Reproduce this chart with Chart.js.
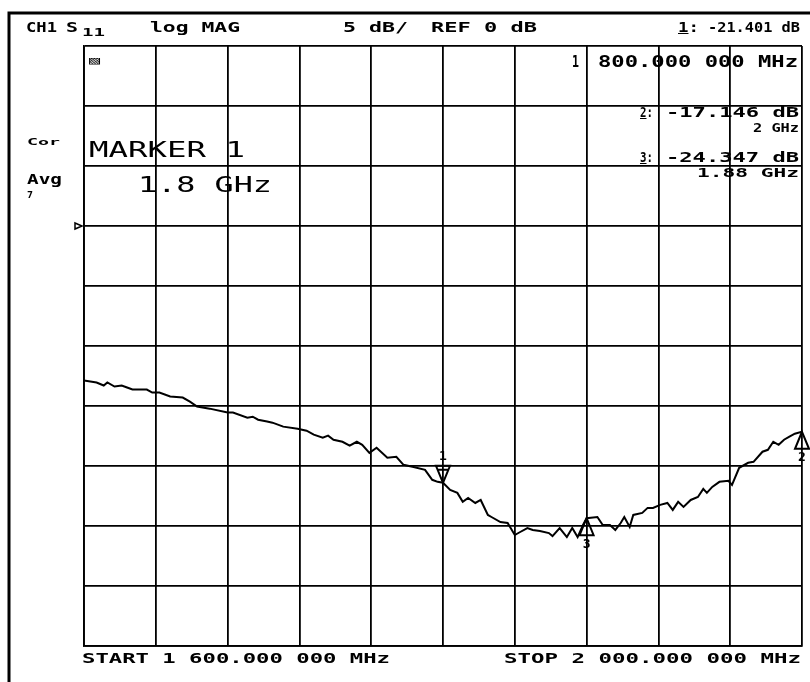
<!DOCTYPE html>
<html lang="en">
<head>
  <meta charset="UTF-8">
  <title>CH1 S11 log MAG</title>
  <script src="https://cdn.jsdelivr.net/npm/chart.js"></script>
  <style>
    html, body { margin: 0; padding: 0; background: #fff; }
    #wrap { position: relative; width: 810px; height: 682px; overflow: hidden; }
    canvas { position: absolute; left: 0; top: 0; }
    .lbl {
      position: absolute;
      font-family: 'DejaVu Sans Mono', monospace;
      font-weight: bold;
      line-height: 1;
      white-space: pre;
      color: #000;
      transform-origin: 0 0;
    }
  </style>
</head>
<body>
  <div id="wrap">
    <canvas id="c" width="810" height="682"></canvas>
  </div>

  <script>
    // trace (MHz, dB)
    const freqMHz = [1600,1607,1611,1613,1617,1621,1624,1627,1635,1638,
      1642,1648,1655,1659,1663,1670,1680,1683,1691,1694,
      1697,1702,1705,1711,1719,1724,1728,1733,1736,1739,
      1744,1748,1752,1755,1759,1763,1769,1774,1778,1783,
      1790,1792,1794,1797,1800,1804,1808,1811,1814,1818,
      1821,1825,1827,1832,1836,1840,1843,1847,1850,1854,
      1859,1861,1865,1869,1872,1875,1878,1880,1886,1889,
      1893,1896,1899,1901,1904,1906,1911,1914,1917,1921,
      1925,1928,1931,1934,1938,1942,1945,1947,1950,1954,
      1959,1961,1965,1970,1973,1978,1981,1984,1987,1990,
      1993,1996,2000];
    const s11dB = [-12.88,-13.04,-13.29,-13.04,-13.38,-13.29,-13.46,-13.63,-13.63,-13.88,
      -13.88,-14.21,-14.30,-14.63,-15.05,-15.22,-15.55,-15.55,-15.97,-15.89,
      -16.14,-16.30,-16.39,-16.72,-16.89,-17.06,-17.39,-17.64,-17.47,-17.81,
      -17.98,-18.31,-17.98,-18.23,-18.90,-18.48,-19.31,-19.23,-19.90,-20.07,
      -20.32,-20.74,-21.15,-21.32,-21.40,-21.99,-22.24,-22.99,-22.66,-23.08,
      -22.83,-24.08,-24.25,-24.67,-24.75,-25.75,-25.50,-25.17,-25.33,-25.42,
      -25.59,-25.84,-25.17,-25.92,-25.17,-25.92,-24.92,-24.35,-24.25,-24.92,
      -24.92,-25.33,-24.75,-24.25,-25.08,-24.08,-23.91,-23.49,-23.49,-23.24,
      -23.08,-23.66,-22.99,-23.41,-22.83,-22.58,-21.91,-22.24,-21.74,-21.32,
      -21.24,-21.57,-20.15,-19.73,-19.65,-18.81,-18.65,-17.98,-18.23,-17.81,
      -17.56,-17.31,-17.15];

    // markers
    const markerNum = ['1', '2', '3'];
    const markerFreq = [1800, 2000, 1880];
    const markerDb = [-21.401, -17.146, -24.347];
    const markerUp = [false, true, true];

    // axis setup: 5 dB/div, ref 0 dB on 4th line from top
    const startMHz = 1600, stopMHz = 2000, freqStep = 40;
    const dbTop = 15, dbBottom = -35, dbStep = 5, refDb = 0;

    const points = freqMHz.map((f, i) => ({ x: f, y: s11dB[i] }));

    // frame, ref arrow and marker symbols
    const overlay = {
      id: 'overlay',
      afterDraw(chart) {
        const ctx = chart.ctx, xs = chart.scales.x, ys = chart.scales.y;
        const area = chart.chartArea;
        ctx.save();
        ctx.strokeStyle = '#000';
        ctx.fillStyle = '#000';
        // outer frame
        ctx.lineWidth = 3;
        ctx.beginPath();
        ctx.moveTo(9, 682);
        ctx.lineTo(9, 13);
        ctx.lineTo(810, 13);
        ctx.stroke();
        // reference position arrow
        const ry = ys.getPixelForValue(refDb);
        ctx.lineWidth = 1.5;
        ctx.beginPath();
        ctx.moveTo(area.left - 9, ry - 3);
        ctx.lineTo(area.left - 2, ry);
        ctx.lineTo(area.left - 9, ry + 3);
        ctx.closePath();
        ctx.stroke();
        // markers
        ctx.font = 'bold 13px "DejaVu Sans Mono"';
        ctx.textAlign = 'center';
        ctx.textBaseline = 'middle';
        ctx.lineWidth = 2;
        markerNum.forEach((n, i) => {
          const px = xs.getPixelForValue(markerFreq[i]);
          const py = ys.getPixelForValue(markerDb[i]);
          ctx.beginPath();
          if (markerUp[i]) {
            ctx.moveTo(px, py);
            ctx.lineTo(px - 7, py + 17);
            ctx.lineTo(px + 7, py + 17);
            ctx.closePath();
            ctx.stroke();
            ctx.fillText(n, px, py + 26);
          } else {
            ctx.moveTo(px, py);
            ctx.lineTo(px - 7, py - 17);
            ctx.lineTo(px + 7, py - 17);
            ctx.closePath();
            ctx.moveTo(px - 5, py - 13);
            ctx.lineTo(px + 5, py - 13);
            ctx.stroke();
            ctx.fillText(n, px, py - 26);
          }
        });
        ctx.restore();
      }
    };

    new Chart(document.getElementById('c'), {
      type: 'line',
      data: {
        datasets: [{
          label: 'S11',
          data: points,
          borderColor: '#000',
          borderWidth: 2,
          pointRadius: 0,
          tension: 0
        }]
      },
      options: {
        responsive: false,
        animation: false,
        devicePixelRatio: 1,
        layout: { padding: { left: 84, right: 8, top: 46, bottom: 36 } },
        plugins: { legend: { display: false }, tooltip: { enabled: false } },
        scales: {
          x: {
            type: 'linear',
            min: startMHz, max: stopMHz,
            ticks: { display: false, stepSize: freqStep },
            grid: { color: '#000', lineWidth: 1.8, drawTicks: false },
            border: { color: '#000', width: 1.8 }
          },
          y: {
            min: dbBottom, max: dbTop,
            ticks: { display: false, stepSize: dbStep },
            grid: { color: '#000', lineWidth: 1.8, drawTicks: false },
            border: { color: '#000', width: 1.8 }
          }
        }
      },
      plugins: [overlay]
    });

    // plotter text, fitted into the boxes seen on the reference
    const wrap = document.getElementById('wrap');
    function label(html, x0, x1, yc, cap, bold) {
      const fs = cap / 0.73;
      const el = document.createElement('div');
      el.className = 'lbl';
      el.style.fontSize = fs + 'px';
      if (bold === false) el.style.fontWeight = 'normal';
      el.innerHTML = html;
      el.style.left = x0 + 'px';
      el.style.top = (yc - 0.481 * fs) + 'px';
      wrap.appendChild(el);
      const w = el.getBoundingClientRect().width;
      el.style.transform = 'scaleX(' + ((x1 - x0) / w) + ')';
    }

    label('CH1', 26, 57, 28, 10);
    label('S', 66, 78, 28, 10);
    label('11', 82, 105, 33, 8);
    label('log MAG', 150, 240, 28, 10);
    label('5 dB/', 343, 408, 28, 10);
    label('REF 0 dB', 431, 537, 28, 10);
    label('<u>1</u>:', 678, 699, 28, 10);
    label('-21.401 dB', 708, 800, 28, 10);

    label('▨', 89, 100, 61, 8, false);
    label('1', 572, 579, 62, 12);
    label('800.000 000 MHz', 598, 798, 62, 12);
    label('<u>2</u>:', 640, 653, 113, 10);
    label('-17.146 dB', 666, 799, 113, 10);
    label('2 GHz', 753, 799, 128, 9);
    label('<u>3</u>:', 640, 653, 158, 10);
    label('-24.347 dB', 666, 799, 158, 10);
    label('1.88 GHz', 697, 799, 173, 9);

    label('Cor', 27, 60, 142, 7);
    label('Avg', 27, 62, 180, 10);
    label('7', 27, 33, 195, 7);
    label('MARKER 1', 89, 245, 150, 15, false);
    label('1.8 GHz', 138, 272, 185, 15, false);

    label('START 1 600.000 000 MHz', 82, 390, 659, 10);
    label('STOP 2 000.000 000 MHz', 504, 801, 659, 10);
  </script>
</body>
</html>
